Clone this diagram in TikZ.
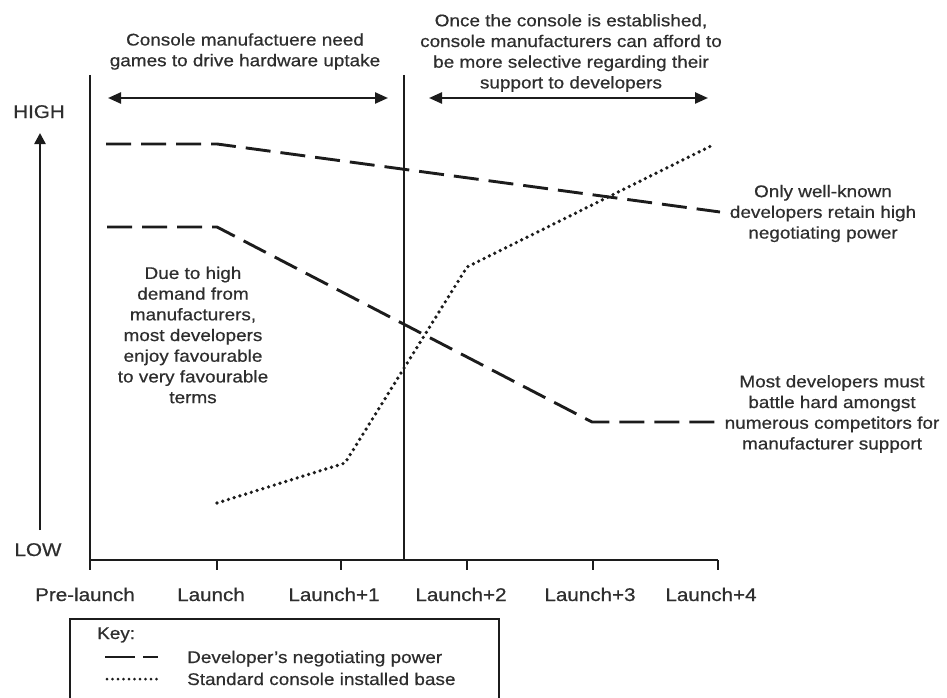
\documentclass[tikz,border=0pt]{standalone}
\usepackage{fontspec}
\setmainfont{Liberation Sans}[FakeStretch=1.12,FakeBold=0.6]
\usetikzlibrary{arrows.meta}
\definecolor{ink}{HTML}{1C1C1C}
\definecolor{txt}{HTML}{2E2E2E}

\begin{document}
\begin{tikzpicture}[x=1pt,y=-1pt,
  axisline/.style={draw=ink,line width=2.5pt},
  power/.style={draw=ink,line width=2.9pt,dash pattern=on 25pt off 10pt},
  instbase/.style={draw=ink,line width=3.7pt,line cap=round,dash pattern=on 0pt off 6pt},
  spanarrow/.style={draw=ink,line width=2.4pt,{Triangle[length=13pt,width=11pt]}-{Triangle[length=13pt,width=11pt]}},
  note/.style={text=txt,font=\fontsize{16.9}{20.7}\selectfont,align=center,inner sep=0pt},
  ticklab/.style={text=txt,font=\fontsize{18.4}{20}\selectfont,anchor=base,inner sep=0pt},
  keylab/.style={text=txt,font=\fontsize{16.9}{20}\selectfont,anchor=base west,inner sep=0pt},
]
\useasboundingbox (0,0) rectangle (947,698);
\clip (0,0) rectangle (947,698);

% axes
\coordinate (ytop) at (90,75);
\coordinate (orig) at (90,560);
\coordinate (ybot) at (90,570);
\coordinate (xend) at (718,560);
\coordinate (divtop) at (404,75);
\coordinate (divbot) at (404,560);
\draw[axisline] (ytop) -- (ybot);
\draw[axisline] (orig) -- (xend);
\draw[axisline] (divtop) -- (divbot);

% ticks and period labels
\foreach \x in {217, 341, 467, 593, 718}{
  \draw[axisline] (\x,560) -- (\x,570);
}
\node[ticklab] (t0) at (85,601) {Pre-launch};
\node[ticklab] (t1) at (211,601) {Launch};
\node[ticklab] (t2) at (334,601) {Launch+1};
\node[ticklab] (t3) at (461,601) {Launch+2};
\node[ticklab] (t4) at (590,601) {Launch+3};
\node[ticklab] (t5) at (711,601) {Launch+4};

% vertical scale
\node[ticklab] (high) at (39,118) {HIGH};
\node[ticklab] (low) at (38,556) {LOW};
\coordinate (upfoot) at (40,530);
\coordinate (uptip) at (40,133);
\draw[draw=ink,line width=2.4pt,-{Triangle[length=11pt,width=11pt]}] (upfoot) -- (uptip);

% period spans
\coordinate (s1a) at (108,98);
\coordinate (s1b) at (388,98);
\coordinate (s2a) at (429,98);
\coordinate (s2b) at (708,98);
\draw[spanarrow] (s1a) -- (s1b);
\draw[spanarrow] (s2a) -- (s2b);
\node[note] (early) at (245,51.5) {Console manufactuere need\\games to drive hardware uptake};
\node[note] (later) at (571,53) {Once the console is established,\\console manufacturers can afford to\\be more selective regarding their\\support to developers};

% developer negotiating power
\coordinate (a0) at (106,144);
\coordinate (a1) at (217,144);
\coordinate (a2) at (720,212);
\draw[power] (a0) -- (a1) -- (a2);
\coordinate (b0) at (107,227);
\coordinate (b1) at (217,227);
\coordinate (b2) at (592,422);
\coordinate (b3) at (718,422);
\draw[power] (b0) -- (b1) -- (b2) -- (b3);

% installed base
\coordinate (c0) at (217,503);
\coordinate (c1) at (345,463);
\coordinate (c2) at (467,267);
\coordinate (c3) at (715,144);
\draw[instbase] (c0) -- (c1) -- (c2) -- (c3);

% annotations
\node[note] (favour) at (193,335) {Due to high\\demand from\\manufacturers,\\most developers\\enjoy favourable\\to very favourable\\terms};
\node[note] (known) at (823,213.5) {Only well-known\\developers retain high\\negotiating power};
\node[note] (battle) at (832,414) {Most developers must\\battle hard amongst\\numerous competitors for\\manufacturer support};

% key
\coordinate (k0) at (70,619);
\coordinate (k1) at (499,720);
\draw[axisline] (k0) rectangle (k1);
\node[keylab] (keyhead) at (97,639) {Key:};
\coordinate (kd0) at (105,657);
\coordinate (kd1) at (158,657);
\draw[draw=ink,line width=2.9pt,dash pattern=on 30pt off 8pt] (kd0) -- (kd1);
\coordinate (kb0) at (107,679);
\coordinate (kb1) at (157,679);
\draw[instbase,line width=3pt,dash pattern=on 0pt off 5.5pt] (kb0) -- (kb1);
\node[keylab] (keypow) at (187,663) {Developer's negotiating power};
\node[keylab] (keybase) at (187,685) {Standard console installed base};
\end{tikzpicture}
\end{document}
